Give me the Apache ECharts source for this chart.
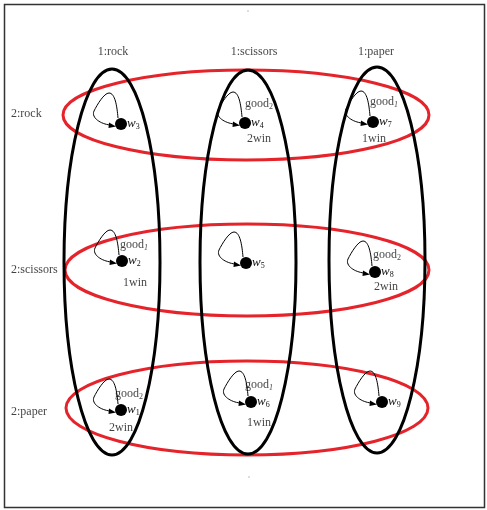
<!DOCTYPE html>
<html>
<head>
<meta charset="utf-8">
<script src="https://cdn.jsdelivr.net/npm/echarts@6/dist/echarts.min.js"></script>
<style>
html,body{margin:0;padding:0;background:#fff;}
#chart{width:487px;height:510px;}
</style>
</head>
<body>
<div id="chart"></div>
<script>
// player 1 choices (columns), player 2 choices (rows)
var colNames = ['1:rock', '1:scissors', '1:paper'];
var colLabelX = [113, 254, 376];
var rowNames = ['2:rock', '2:scissors', '2:paper'];
var rowLabelY = [114, 270, 412];

// ellipses [cx, cy, rx, ry]
var colEllipses = [[112, 262, 48, 193], [248, 262, 48, 192], [377, 260, 48, 193]];
var rowEllipses = [[246, 115, 183, 45], [247, 270, 182, 46], [247, 408, 181, 47]];

// states w1..w9
var stateIds = ['1', '2', '3', '4', '5', '6', '7', '8', '9'];
var stateX = [121, 122, 121, 245, 246, 251, 373, 375, 382];
var stateY = [410, 261, 124, 123, 263, 402, 122, 272, 402];

// good_i labels [x, y, i] and win labels [x, y, text]
var goodLabels = [[245, 104, '2'], [370, 102, '1'], [120, 245, '1'], [373, 255, '2'], [115, 394, '2'], [245, 385, '1']];
var winLabels = [[247, 139, '2win'], [362, 139, '1win'], [123, 283, '1win'], [374, 287, '2win'], [109, 428, '2win'], [247, 423, '1win']];

// tiny specks in the figure
var specks = [[248, 11], [249, 477]];

var serif = 'Liberation Serif';
var txt = '#111';

function ellipseItem(color) {
	return function (params, api) {
		var c = api.coord([api.value(0), api.value(1)]);
		var s = api.size([api.value(2), api.value(3)]);
		return {
			type: 'ellipse',
			shape: {cx: c[0], cy: c[1], rx: s[0], ry: s[1]},
			style: {fill: 'none', stroke: color, lineWidth: 3}
		};
	};
}

// self loop drawn up and left of each state, arrow back into it
function loopItem(params, api) {
	var p = api.coord([api.value(0), api.value(1)]);
	var x = p[0], y = p[1];
	function pt(dx, dy) { return (x + dx) + ' ' + (y + dy); }
	var d = 'M' + pt(-3, -6) + ' C' + pt(-4, -18) + ' ' + pt(-6, -31) + ' ' + pt(-12, -31) +
		' C' + pt(-17, -31) + ' ' + pt(-24, -19) + ' ' + pt(-27, -13) +
		' C' + pt(-30, -6) + ' ' + pt(-20, 0) + ' ' + pt(-11, 1);
	return {
		type: 'group',
		children: [
			{type: 'path', shape: {pathData: d}, style: {fill: 'none', stroke: '#000', lineWidth: 1}},
			{type: 'polygon', shape: {points: [[x - 5, y + 2.5], [x - 12, y - 1.5], [x - 12.5, y + 4]]}, style: {fill: '#000'}}
		]
	};
}

var states = stateX.map(function (v, i) { return [v, stateY[i], stateIds[i]]; });

var chart = echarts.init(document.getElementById('chart'));
chart.setOption({
	animation: false,
	backgroundColor: '#fff',
	grid: {left: 0, right: 0, top: 0, bottom: 0},
	xAxis: {type: 'value', min: 0, max: 487, show: false},
	yAxis: {type: 'value', min: 0, max: 510, inverse: true, show: false},
	graphic: [{
		type: 'rect',
		shape: {x: 4.5, y: 4.5, width: 480, height: 503},
		style: {fill: 'none', stroke: '#333', lineWidth: 1.5}
	}],
	series: [
		{
			type: 'custom', renderItem: ellipseItem('#e5232a'), clip: false,
			encode: {x: 0, y: 1}, data: rowEllipses, silent: true
		},
		{
			type: 'custom', renderItem: ellipseItem('#000'), clip: false,
			encode: {x: 0, y: 1}, data: colEllipses, silent: true
		},
		{
			type: 'custom', renderItem: loopItem, clip: false,
			encode: {x: 0, y: 1}, data: states, silent: true
		},
		{
			type: 'scatter', symbol: 'circle', symbolSize: 12, data: states, silent: true,
			itemStyle: {color: '#000', opacity: 1},
			label: {
				show: true, position: 'right', distance: 0,
				formatter: function (p) { return '{w|w}{s|' + p.value[2] + '}'; },
				rich: {
					w: {fontFamily: serif, fontStyle: 'italic', fontSize: 13, color: txt, lineHeight: 14},
					s: {fontFamily: serif, fontSize: 8, color: txt, verticalAlign: 'bottom', lineHeight: 6}
				}
			}
		},
		{
			type: 'scatter', symbolSize: 0, data: goodLabels, silent: true,
			label: {
				show: true, position: 'right', distance: 0,
				formatter: function (p) {
					return '{g|good}{' + (p.value[2] === '1' ? 'si' : 's') + '|' + p.value[2] + '}';
				},
				rich: {
					g: {fontFamily: serif, fontSize: 12, color: txt, lineHeight: 14},
					s: {fontFamily: serif, fontSize: 8, color: txt, verticalAlign: 'bottom', lineHeight: 8},
					si: {fontFamily: serif, fontStyle: 'italic', fontSize: 8, color: txt, verticalAlign: 'bottom', lineHeight: 8}
				}
			}
		},
		{
			type: 'scatter', symbolSize: 0, data: winLabels, silent: true,
			label: {
				show: true, position: 'right', distance: 0, color: txt,
				fontFamily: serif, fontSize: 12,
				formatter: function (p) { return p.value[2]; }
			}
		},
		{
			type: 'scatter', symbolSize: 0, silent: true,
			data: colNames.map(function (n, i) { return [colLabelX[i], 52, n]; }),
			label: {
				show: true, position: 'inside', color: txt, fontFamily: serif, fontSize: 12,
				formatter: function (p) { return p.value[2]; }
			}
		},
		{
			type: 'scatter', symbolSize: 0, silent: true,
			data: rowNames.map(function (n, i) { return [11, rowLabelY[i], n]; }),
			label: {
				show: true, position: 'right', distance: 0, color: txt, fontFamily: serif, fontSize: 12,
				formatter: function (p) { return p.value[2]; }
			}
		},
		{
			type: 'scatter', symbolSize: 1.5, data: specks, silent: true,
			itemStyle: {color: '#999'}
		}
	]
});
</script>
</body>
</html>
